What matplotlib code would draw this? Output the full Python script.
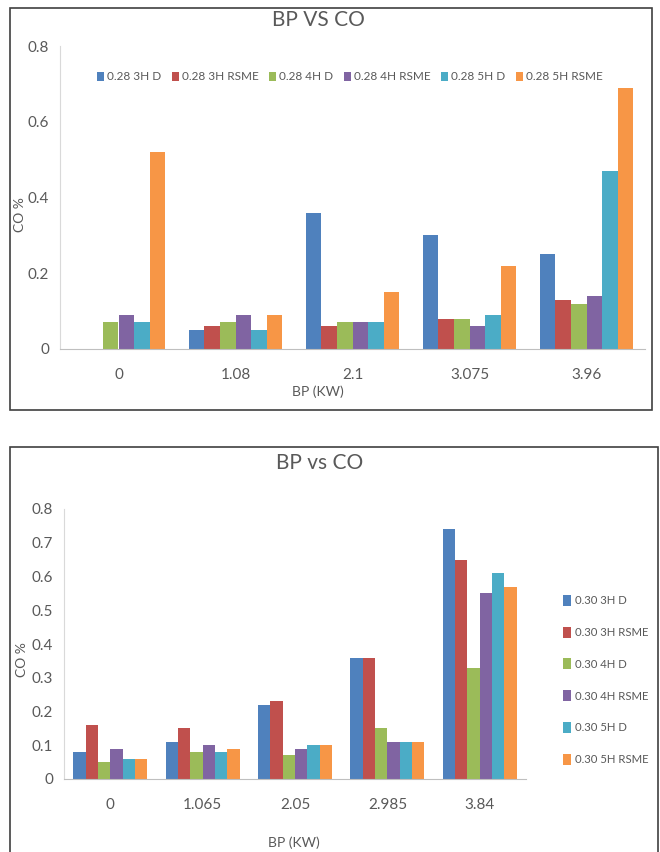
import matplotlib
matplotlib.use("Agg")
import matplotlib.pyplot as plt
import numpy as np
from matplotlib.patches import Rectangle

plt.rcParams['font.family'] = ['Lato', 'DejaVu Sans']

series_top = ["0.28 3H D", "0.28 3H RSME", "0.28 4H D", "0.28 4H RSME", "0.28 5H D", "0.28 5H RSME"]
cats_top = ["0", "1.08", "2.1", "3.075", "3.96"]
top_3hd = [0.0, 0.05, 0.36, 0.30, 0.25]
top_3hr = [0.0, 0.06, 0.06, 0.08, 0.13]
top_4hd = [0.07, 0.07, 0.07, 0.08, 0.12]
top_4hr = [0.09, 0.09, 0.07, 0.06, 0.14]
top_5hd = [0.07, 0.05, 0.07, 0.09, 0.47]
top_5hr = [0.52, 0.09, 0.15, 0.22, 0.69]

series_bot = ["0.30 3H D", "0.30 3H RSME", "0.30 4H D", "0.30 4H RSME", "0.30 5H D", "0.30 5H RSME"]
cats_bot = ["0", "1.065", "2.05", "2.985", "3.84"]
bot_3hd = [0.08, 0.11, 0.22, 0.36, 0.74]
bot_3hr = [0.16, 0.15, 0.23, 0.36, 0.65]
bot_4hd = [0.05, 0.08, 0.07, 0.15, 0.33]
bot_4hr = [0.09, 0.10, 0.09, 0.11, 0.55]
bot_5hd = [0.06, 0.08, 0.10, 0.11, 0.61]
bot_5hr = [0.06, 0.09, 0.10, 0.11, 0.57]

colors = ["#4F81BD", "#C0504D", "#9BBB59", "#8064A2", "#4BACC6", "#F79646"]
txt = "#595959"

W, H = 660, 852
fig = plt.figure(figsize=(W / 100, H / 100), dpi=100)

def fx(px):
    return px / W

def fy(py):
    return 1 - py / H

# frame boxes
fig.patches.append(Rectangle((fx(10), fy(410)), (652 - 10) / W, (410 - 8) / H,
                             transform=fig.transFigure, fill=False, edgecolor="#404040", lw=1.2))
fig.patches.append(Rectangle((fx(10), fy(856)), (658 - 10) / W, (856 - 447) / H,
                             transform=fig.transFigure, fill=False, edgecolor="#404040", lw=1.2))


def draw(ax, cats, data, names, yticks, ymax):
    n = len(data)
    x = np.arange(len(cats))
    width = 0.8 / n
    handles = []
    for i, (vals, name) in enumerate(zip(data, names)):
        h = ax.bar(x - 0.4 + width * (i + 0.5), vals, width, color=colors[i], label=name)
        handles.append(h)
    ax.set_xlim(-0.5, len(cats) - 0.5)
    ax.set_ylim(0, ymax)
    ax.set_xticks(x)
    ax.set_xticklabels(cats)
    ax.set_yticks(yticks)
    ax.set_yticklabels([("0" if v == 0 else f"{v:g}") for v in yticks])
    for s in ["top", "right"]:
        ax.spines[s].set_visible(False)
    ax.spines["left"].set_color("#D9D9D9")
    ax.spines["bottom"].set_color("#BFBFBF")
    ax.tick_params(axis="both", length=0, colors=txt, labelsize=11)
    ax.tick_params(axis="x", pad=14)
    ax.tick_params(axis="y", pad=8)
    return handles

# top chart
ax1 = fig.add_axes([fx(60), fy(349), (645 - 60) / W, (349 - 46) / H])
h1 = draw(ax1, cats_top, [top_3hd, top_3hr, top_4hd, top_4hr, top_5hd, top_5hr],
          series_top, [0, 0.2, 0.4, 0.6, 0.8], 0.8)
fig.text(fx(318), fy(20), "BP VS CO", ha="center", va="center", fontsize=15, color=txt)
fig.text(fx(318), fy(392), "BP (KW)", ha="center", va="center", fontsize=10, color=txt)
fig.text(fx(20), fy(215), "CO %", ha="center", va="center", rotation=90, fontsize=10, color=txt)
ax1.legend(handles=h1, loc="center", bbox_to_anchor=((350 - 60) / 585, (349 - 77) / 303),
           ncol=6, frameon=False, fontsize=8.5, handlelength=0.6, handleheight=0.8,
           handletextpad=0.25, columnspacing=0.9, labelcolor=txt)

# bottom chart
ax2 = fig.add_axes([fx(64), fy(779), (526 - 64) / W, (779 - 509) / H])
h2 = draw(ax2, cats_bot, [bot_3hd, bot_3hr, bot_4hd, bot_4hr, bot_5hd, bot_5hr],
          series_bot, [0, 0.1, 0.2, 0.3, 0.4, 0.5, 0.6, 0.7, 0.8], 0.8)
fig.text(fx(320), fy(463), "BP vs CO", ha="center", va="center", fontsize=15, color=txt)
fig.text(fx(294), fy(843), "BP (KW)", ha="center", va="center", fontsize=10, color=txt)
fig.text(fx(22), fy(660), "CO %", ha="center", va="center", rotation=90, fontsize=10, color=txt)
fig.legend(handles=h2, loc="center left", bbox_to_anchor=(fx(553), fy(680)),
           ncol=1, frameon=False, fontsize=8.2, handlelength=0.7, handleheight=1.1,
           handletextpad=0.3, labelspacing=1.8, labelcolor=txt)

fig.savefig("out.png", dpi=100, facecolor="white")
